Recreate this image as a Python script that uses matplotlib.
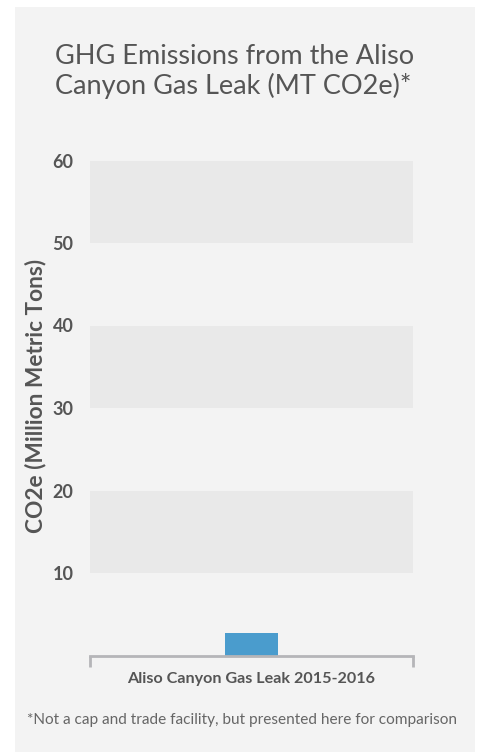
import matplotlib.pyplot as plt
from matplotlib.patches import Rectangle

categories = ['Aliso Canyon Gas Leak 2015-2016']
emissions = [2.7]
y_ticks = [10, 20, 30, 40, 50, 60]
bands = [(10, 20), (30, 40), (50, 60)]
title_lines = ['GHG Emissions from the Aliso', 'Canyon Gas Leak (MT CO2e)*']

W, H = 481, 753
fig = plt.figure(figsize=(W / 100, H / 100), dpi=100)
fig.patch.set_facecolor('white')

# light gray panel behind everything
fig.patches.append(Rectangle((15 / W, 1 - 752 / H), 460 / W, 745 / H,
                             transform=fig.transFigure, facecolor='#f3f3f3',
                             edgecolor='none', zorder=-5))

ax = fig.add_axes([90 / W, 1 - 655.5 / H, 323 / W, 495 / H])
ax.set_facecolor('#f3f3f3')

for lo, hi in bands:
    ax.axhspan(lo, hi, color='#e9e9e9', zorder=0, lw=0)

ax.bar(range(len(categories)), emissions, width=0.167, color='#4a9ccd', zorder=2)

ax.set_xlim(-0.5, 0.5)
ax.set_ylim(0, 60)

font = 'Lato'
txt = '#555555'

ax.set_yticks(y_ticks)
ax.set_yticklabels([str(v) for v in y_ticks], fontsize=13, color=txt,
                   fontfamily=font, fontweight='bold')
ax.tick_params(axis='y', length=0, pad=12)

ax.set_xticks(range(len(categories)))
ax.set_xticklabels(categories, fontsize=11.6, color=txt, fontfamily=font,
                   fontweight='bold')
ax.tick_params(axis='x', which='major', length=0, pad=12)
ax.set_xticks([-0.5, 0.5], minor=True)
ax.tick_params(axis='x', which='minor', length=8, width=2, color='#b5b5b8')

for s in ['top', 'right', 'left']:
    ax.spines[s].set_visible(False)
ax.spines['bottom'].set_color('#b5b5b8')
ax.spines['bottom'].set_linewidth(2)

ax.set_ylabel('CO2e (Million Metric Tons)', fontsize=16.3, color=txt,
              fontfamily=font, fontweight='bold', va='center')
ax.yaxis.set_label_coords(-0.17, 0.524)

for i, line in enumerate(title_lines):
    fig.text(55 / W, 1 - (64 + 30 * i) / H, line, fontsize=19.5, color=txt,
             fontfamily=font, ha='left', va='baseline')

fig.text(242 / W, 1 - 720 / H,
         '*Not a cap and trade facility, but presented here for comparison',
         fontsize=11.1, color='#666666', fontfamily=font, ha='center', va='center')

fig.savefig('out.png', dpi=100, facecolor=fig.get_facecolor())
